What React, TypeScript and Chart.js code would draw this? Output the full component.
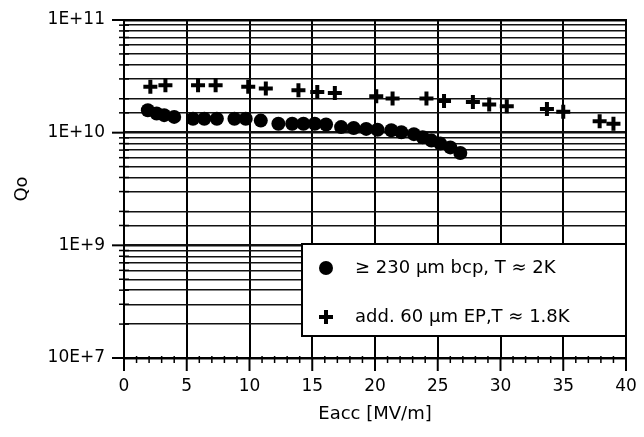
import React, { useEffect, useRef } from "react";
import { Chart, registerables } from "chart.js";

Chart.register(...registerables);

// Series 1: >= 230 um bcp, T ~ 2K (filled circles)
const bcpE = [1.9, 2.6, 3.2, 4.0, 5.5, 6.4, 7.4, 8.8, 9.7, 10.9, 12.3, 13.4, 14.3, 15.2, 16.1, 17.3, 18.3, 19.3, 20.2, 21.3, 22.1, 23.1, 23.8, 24.5, 25.2, 26.0, 26.8];
const bcpQ = [1.58e10, 1.48e10, 1.43e10, 1.38e10, 1.33e10, 1.33e10, 1.33e10, 1.33e10, 1.33e10, 1.28e10, 1.2e10, 1.2e10, 1.2e10, 1.2e10, 1.18e10, 1.12e10, 1.1e10, 1.08e10, 1.06e10, 1.05e10, 1.01e10, 9.7e9, 9.1e9, 8.5e9, 8.0e9, 7.4e9, 6.6e9];

// Series 2: add. 60 um EP, T ~ 1.8K (crosses)
const epE = [2.1, 3.3, 5.9, 7.3, 9.9, 11.3, 13.9, 15.4, 16.8, 20.1, 21.4, 24.1, 25.5, 27.8, 29.1, 30.5, 33.7, 35.0, 37.9, 39.0];
const epQ = [2.55e10, 2.64e10, 2.64e10, 2.64e10, 2.55e10, 2.47e10, 2.38e10, 2.3e10, 2.25e10, 2.1e10, 2.01e10, 2.01e10, 1.91e10, 1.87e10, 1.78e10, 1.72e10, 1.62e10, 1.53e10, 1.26e10, 1.2e10];

const seriesLabels = ["\u2265 230 \u00b5m bcp, T \u2248 2K", "add. 60 \u00b5m EP,T \u2248 1.8K"];

const yLabelValues = [1e8, 1e9, 1e10, 1e11];
const yLabelTexts = ["10E+7", "1E+9", "1E+10", "1E+11"];

const xMin = 0;
const xMax = 40;
const yMin = 1e8;
const yMax = 1e11;

const FONT = "'DejaVu Sans', 'Liberation Sans', sans-serif";

const isDecade = (v: number) => {
  const e = Math.log10(v);
  return Math.abs(e - Math.round(e)) < 1e-6;
};

const yLabelFor = (v: number) => {
  for (let i = 0; i < yLabelValues.length; i++) {
    if (Math.abs(v / yLabelValues[i] - 1) < 1e-6) return yLabelTexts[i];
  }
  return "";
};

const frameAndLegend = {
  id: "frameAndLegend",
  afterDraw(chart: any) {
    const ctx = chart.ctx as CanvasRenderingContext2D;
    const { left, right, top, bottom } = chart.chartArea;
    const xs = chart.scales.x;
    const ys = chart.scales.y;
    ctx.save();
    ctx.strokeStyle = "#000";
    // frame
    ctx.lineWidth = 2;
    ctx.strokeRect(left, top, right - left, bottom - top);
    // y tick marks
    ys.ticks.forEach((t: any) => {
      const y = ys.getPixelForValue(t.value);
      ctx.beginPath();
      if (isDecade(t.value)) {
        ctx.lineWidth = 2;
        ctx.moveTo(left - 12, y);
        ctx.lineTo(left, y);
      } else {
        ctx.lineWidth = 1.5;
        ctx.moveTo(left - 5, y);
        ctx.lineTo(left + 5, y);
      }
      ctx.stroke();
    });
    // x tick marks
    xs.ticks.forEach((t: any) => {
      const x = xs.getPixelForValue(t.value);
      ctx.beginPath();
      if (t.value % 5 === 0) {
        ctx.lineWidth = 2;
        ctx.moveTo(x, bottom);
        ctx.lineTo(x, bottom + 13);
      } else {
        ctx.lineWidth = 1.5;
        ctx.moveTo(x, bottom - 2);
        ctx.lineTo(x, bottom + 5);
      }
      ctx.stroke();
    });
    // legend box
    const bx = 302, by = 244, bw = right - 302, bh = 92;
    ctx.fillStyle = "#fff";
    ctx.fillRect(bx, by, bw, bh);
    ctx.lineWidth = 2;
    ctx.strokeRect(bx, by, bw, bh);
    // item 1: circle
    ctx.fillStyle = "#000";
    ctx.beginPath();
    ctx.arc(326, 268, 7, 0, Math.PI * 2);
    ctx.fill();
    // item 2: cross
    ctx.lineWidth = 4;
    ctx.beginPath();
    ctx.moveTo(319, 317);
    ctx.lineTo(333, 317);
    ctx.moveTo(326, 310);
    ctx.lineTo(326, 324);
    ctx.stroke();
    ctx.font = `18px ${FONT}`;
    ctx.textBaseline = "middle";
    ctx.textAlign = "left";
    ctx.fillText(seriesLabels[0], 355, 268);
    ctx.fillText(seriesLabels[1], 355, 317);
    ctx.restore();
  },
};

export default function App() {
  const ref = useRef<HTMLCanvasElement | null>(null);
  useEffect(() => {
    document.body.style.margin = "0";
    const canvas = ref.current;
    if (!canvas) return;
    const chart = new Chart(canvas, {
      type: "scatter",
      data: {
        datasets: [
          {
            label: seriesLabels[0],
            data: bcpE.map((x, i) => ({ x, y: bcpQ[i] })),
            pointStyle: "circle",
            pointRadius: 7,
            backgroundColor: "#000",
            borderColor: "#000",
            borderWidth: 0,
          },
          {
            label: seriesLabels[1],
            data: epE.map((x, i) => ({ x, y: epQ[i] })),
            pointStyle: "cross",
            pointRadius: 7,
            backgroundColor: "#000",
            borderColor: "#000",
            borderWidth: 4,
          },
        ],
      },
      plugins: [frameAndLegend],
      options: {
        responsive: false,
        animation: false,
        events: [],
        layout: { padding: 0 },
        plugins: {
          legend: { display: false },
          tooltip: { enabled: false },
        },
        scales: {
          x: {
            type: "linear",
            min: xMin,
            max: xMax,
            afterFit: (s: any) => {
              s.height = 79;
              s.paddingRight = 18;
            },
            ticks: {
              stepSize: 1,
              autoSkip: false,
              maxRotation: 0,
              padding: 18,
              color: "#000",
              font: { family: FONT, size: 17 },
              callback: (v: any) => (Number(v) % 5 === 0 ? String(v) : ""),
            },
            grid: {
              drawTicks: false,
              color: (c: any) => (c.tick && c.tick.value % 5 === 0 ? "#000" : "rgba(0,0,0,0)"),
              lineWidth: 2,
            },
            border: { display: true, color: "#000", width: 2 },
            title: {
              display: true,
              text: "Eacc [MV/m]",
              color: "#000",
              font: { family: FONT, size: 18 },
              padding: { top: 0, bottom: 12 },
            },
          },
          y: {
            type: "logarithmic",
            min: yMin,
            max: yMax,
            afterFit: (s: any) => {
              s.width = 124;
              s.paddingTop = 20;
            },
            ticks: {
              autoSkip: false,
              padding: 19,
              color: "#000",
              font: { family: FONT, size: 17 },
              callback: (v: any) => yLabelFor(Number(v)),
            },
            grid: {
              drawTicks: false,
              color: "#111",
              lineWidth: (c: any) => (c.tick && isDecade(c.tick.value) ? 2.5 : 1.4),
            },
            border: { display: true, color: "#000", width: 2 },
            title: {
              display: true,
              text: "Qo",
              color: "#000",
              font: { family: FONT, size: 18 },
              padding: { top: 12, bottom: 0 },
            },
          },
        },
      },
    });
    return () => chart.destroy();
  }, []);
  return (
    <div style={{ position: "absolute", left: 0, top: 0, width: 644, height: 437, background: "#fff" }}>
      <canvas ref={ref} width={644} height={437} />
    </div>
  );
}
